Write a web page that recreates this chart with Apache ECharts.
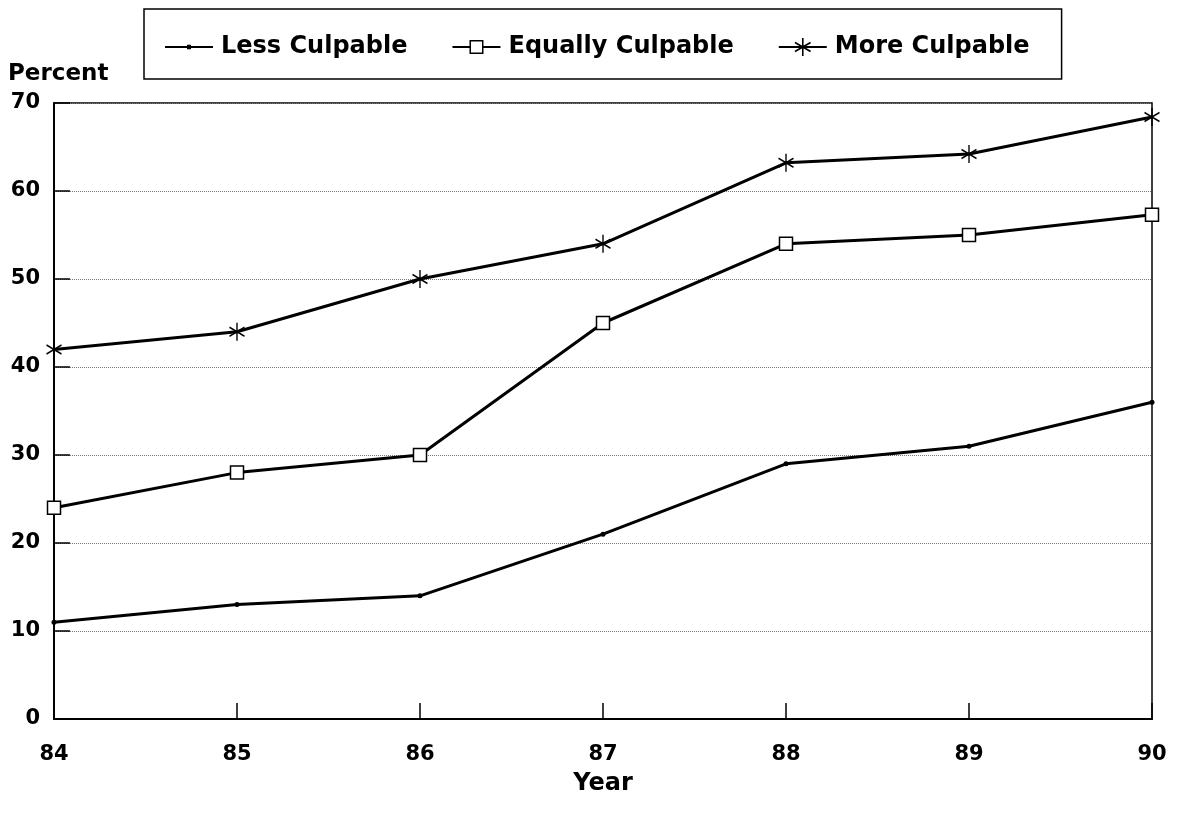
<!DOCTYPE html>
<html>
<head>
<meta charset="utf-8">
<script src="https://cdn.jsdelivr.net/npm/echarts@6/dist/echarts.min.js"></script>
<style>
  html, body { margin: 0; padding: 0; background: #fff; }
  #chart { width: 1182px; height: 824px; }
</style>
</head>
<body>
<div id="chart"></div>
<script>
const years = ['84', '85', '86', '87', '88', '89', '90'];
const lessCulpable = [11, 13, 14, 21, 29, 31, 36];
const equallyCulpable = [24, 28, 30, 45, 54, 55, 57.3];
const moreCulpable = [42, 44, 50, 54, 63.2, 64.2, 68.4];

const font = 'DejaVu Sans';

// marker in the plot: vertical stroke + two diagonals
const asterisk = 'path://M0,-10L0,10M-8.66,-5L8.66,5M-8.66,5L8.66,-5';

// legend icons (filled shapes, box 51 x 18, last 3px empty as a gap before the text)
const bounds = 'M0,0M51,18';
const lessIcon = 'path://' + bounds + 'M0,8L48,8L48,10L0,10Z M22,6.8L26,6.8L26,11.2L22,11.2Z';
const equallyIcon = 'path://' + bounds +
  'M0,8L17,8L17,10L0,10Z M31,8L48,8L48,10L31,10Z' +
  'M17,2L31,2L31,3.5L17,3.5Z M17,14.5L31,14.5L31,16L17,16Z' +
  'M17,2L18.5,2L18.5,16L17,16Z M29.5,2L31,2L31,16L29.5,16Z';
const moreIcon = 'path://' + bounds +
  'M0,8L48,8L48,10L0,10Z M23.2,0L24.8,0L24.8,18L23.2,18Z' +
  'M16.6,3.81L32.2,12.81L31.4,14.19L15.8,5.19Z' +
  'M15.8,12.81L31.4,3.81L32.2,5.19L16.6,14.19Z';

const chart = echarts.init(document.getElementById('chart'));

const option = {
  backgroundColor: '#fff',
  animation: false,
  title: {
    text: 'Percent',
    left: 8,
    top: 63,
    padding: 0,
    textStyle: { fontFamily: font, fontWeight: 'bold', fontSize: 23, color: '#000' }
  },
  legend: {
    left: 144,
    top: 9,
    padding: [26, 32, 20, 21],
    itemGap: 45,
    itemWidth: 51,
    itemHeight: 18,
    borderColor: '#000',
    borderWidth: 1.5,
    textStyle: { fontFamily: font, fontWeight: 'bold', fontSize: 24, color: '#000' },
    data: [
      { name: 'Less Culpable', icon: lessIcon, itemStyle: { color: '#000', borderWidth: 0 } },
      { name: 'Equally Culpable', icon: equallyIcon, itemStyle: { color: '#000', borderWidth: 0 } },
      { name: 'More Culpable', icon: moreIcon, itemStyle: { color: '#000', borderWidth: 0 } }
    ]
  },
  grid: {
    left: 54,
    right: 30,
    top: 103,
    bottom: 105,
    show: true,
    borderColor: '#000',
    borderWidth: 1.5
  },
  xAxis: {
    type: 'category',
    data: years,
    boundaryGap: false,
    name: 'Year',
    nameLocation: 'middle',
    nameGap: 53,
    nameTextStyle: { fontFamily: font, fontWeight: 'bold', fontSize: 24, color: '#000' },
    axisLine: { lineStyle: { color: '#000', width: 2 } },
    axisTick: { inside: true, length: 16, lineStyle: { color: '#000', width: 1.5 } },
    axisLabel: { margin: 25, fontFamily: font, fontWeight: 'bold', fontSize: 21, color: '#000' },
    splitLine: { show: false }
  },
  yAxis: {
    type: 'value',
    min: 0,
    max: 70,
    interval: 10,
    axisLine: { show: true, lineStyle: { color: '#000', width: 2 } },
    axisTick: { show: true, inside: true, length: 16, lineStyle: { color: '#000', width: 1.5 } },
    axisLabel: { margin: 14, fontFamily: font, fontWeight: 'bold', fontSize: 21, color: '#000' },
    splitLine: { show: true, lineStyle: { color: '#777', type: 'dotted', width: 1 } }
  },
  series: [
    {
      name: 'Less Culpable',
      type: 'line',
      data: lessCulpable,
      symbol: 'circle',
      symbolSize: 5,
      lineStyle: { color: '#000', width: 3 },
      itemStyle: { color: '#000' }
    },
    {
      name: 'Equally Culpable',
      type: 'line',
      data: equallyCulpable,
      symbol: 'rect',
      symbolSize: 13,
      lineStyle: { color: '#000', width: 3 },
      itemStyle: { color: '#fff', borderColor: '#000', borderWidth: 1.5 }
    },
    {
      name: 'More Culpable',
      type: 'line',
      data: moreCulpable,
      symbol: asterisk,
      symbolSize: [15, 18],
      lineStyle: { color: '#000', width: 3 },
      itemStyle: { color: '#000', borderColor: '#000', borderWidth: 1.5 }
    }
  ]
};

chart.setOption(option);
</script>
</body>
</html>
